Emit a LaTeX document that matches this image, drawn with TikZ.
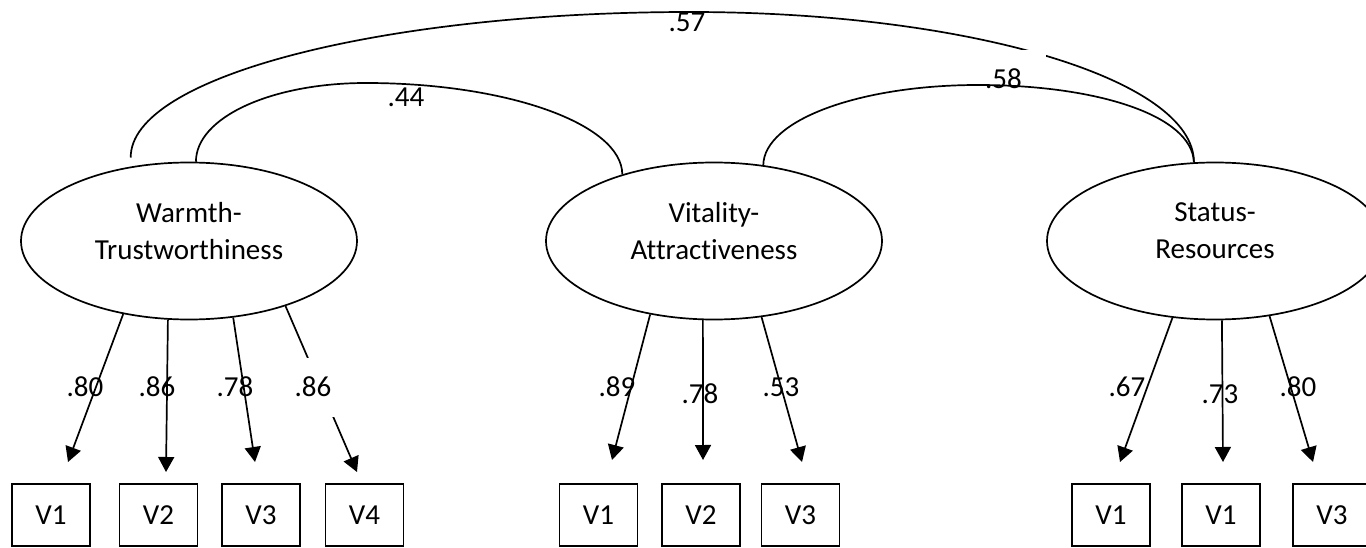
\documentclass[tikz,border=0pt]{standalone}
\usepackage{fontspec}
\setmainfont{Carlito}[Ligatures=NoCommon]
\usetikzlibrary{shapes.geometric,arrows.meta}
\begin{document}
\begin{tikzpicture}[x=1pt,y=-1pt,line width=1.7pt,
  txt/.style={font=\fontsize{29}{37}\selectfont},
  latent/.style={txt,ellipse,draw,minimum width=336pt,minimum height=157pt,inner sep=0pt,align=center,text depth=21pt},
  obs/.style={txt,rectangle,draw,minimum width=78pt,minimum height=62pt,inner sep=0pt,text height=19pt,text depth=0pt},
  lbl/.style={txt,inner sep=0pt,text height=18.5pt,text depth=0pt},
  mask/.style={fill=white},
  load/.style={-{Triangle[length=15pt,width=16pt]}}]
\useasboundingbox (0,0) rectangle (1366,548);
\clip (0,0) rectangle (1366,548);

% latent factors
\node[latent] (w) at (189,241) {Warmth-\\Trustworthiness};
\node[latent] (v) at (714,241) {Vitality-\\Attractiveness};
\node[latent] (s) at (1215,241) {Status-\\Resources};

% observed variables
\node[obs] (w1) at (51,515) {V1};
\node[obs] (w2) at (158.5,515) {V2};
\node[obs] (w3) at (261,515) {V3};
\node[obs] (w4) at (364.5,515) {V4};
\node[obs] (v1) at (598.5,515) {V1};
\node[obs] (v2) at (701,515) {V2};
\node[obs] (v3) at (800.5,515) {V3};
\node[obs] (s1) at (1111,515) {V1};
\node[obs] (s2) at (1221,515) {V1};
\node[obs] (s3) at (1332,515) {V3};

% arrow tips (free ends)
\coordinate (tw1) at (68,462);
\coordinate (tw2) at (166,472);
\coordinate (tw3) at (255,462);
\coordinate (tw4) at (357,472);
\coordinate (tv1) at (612,460);
\coordinate (tv2) at (703,460);
\coordinate (tv3) at (802,462);
\coordinate (ts1) at (1120,462);
\coordinate (ts2) at (1223,462);
\coordinate (ts3) at (1313,462);

% loadings
\draw[load] (w.228) -- (tw1);
\draw[load] (w.255) -- (tw2);
\draw[load] (w.300) -- (tw3);
\draw[load] (w.326) -- (tw4);
\draw[load] (v.229) -- (tv1);
\draw[load] (v.262) -- (tv2);
\draw[load] (v.302) -- (tv3);
\draw[load] (s.241) -- (ts1);
\draw[load] (s.275) -- (ts2);
\draw[load] (s.306) -- (ts3);

\node[lbl] (lw1) at (85,387) {.80};
\node[lbl] (lw2) at (157,387) {.86};
\node[lbl] (lw3) at (235,387) {.78};
\node[lbl,mask,minimum width=50pt,minimum height=59pt] (lw4) at (313,387.5) {.86};
\node[lbl] (lv1) at (617,387) {.89};
\node[lbl] (lv2) at (700,394) {.78};
\node[lbl] (lv3) at (781,387) {.53};
\node[lbl] (ls1) at (1127,387) {.67};
\node[lbl] (ls2) at (1220,394) {.73};
\node[lbl] (ls3) at (1298,387) {.80};

% correlations
\draw[shorten <=9pt] (w.128) .. controls (130,77) and (381,12) .. (690,12)
  .. controls (968,12) and (1194,79) .. (s.105);
\node[lbl] (c57) at (687,22) {.57};
\node[lbl,mask,text width=56pt,inner xsep=5pt,minimum height=58pt,align=left] (c58) at (1013,79) {.58};
\draw (w.85) .. controls (196,117) and (272,83) .. (366,83)
  .. controls (507,83) and (622,124) .. (v.144);
\node[lbl] (c44) at (406,97) {.44};
\draw (v.57) .. controls (764,120) and (860,85) .. (978,85)
  .. controls (1096,85) and (1192,115) .. (s.105);
\end{tikzpicture}
\end{document}
